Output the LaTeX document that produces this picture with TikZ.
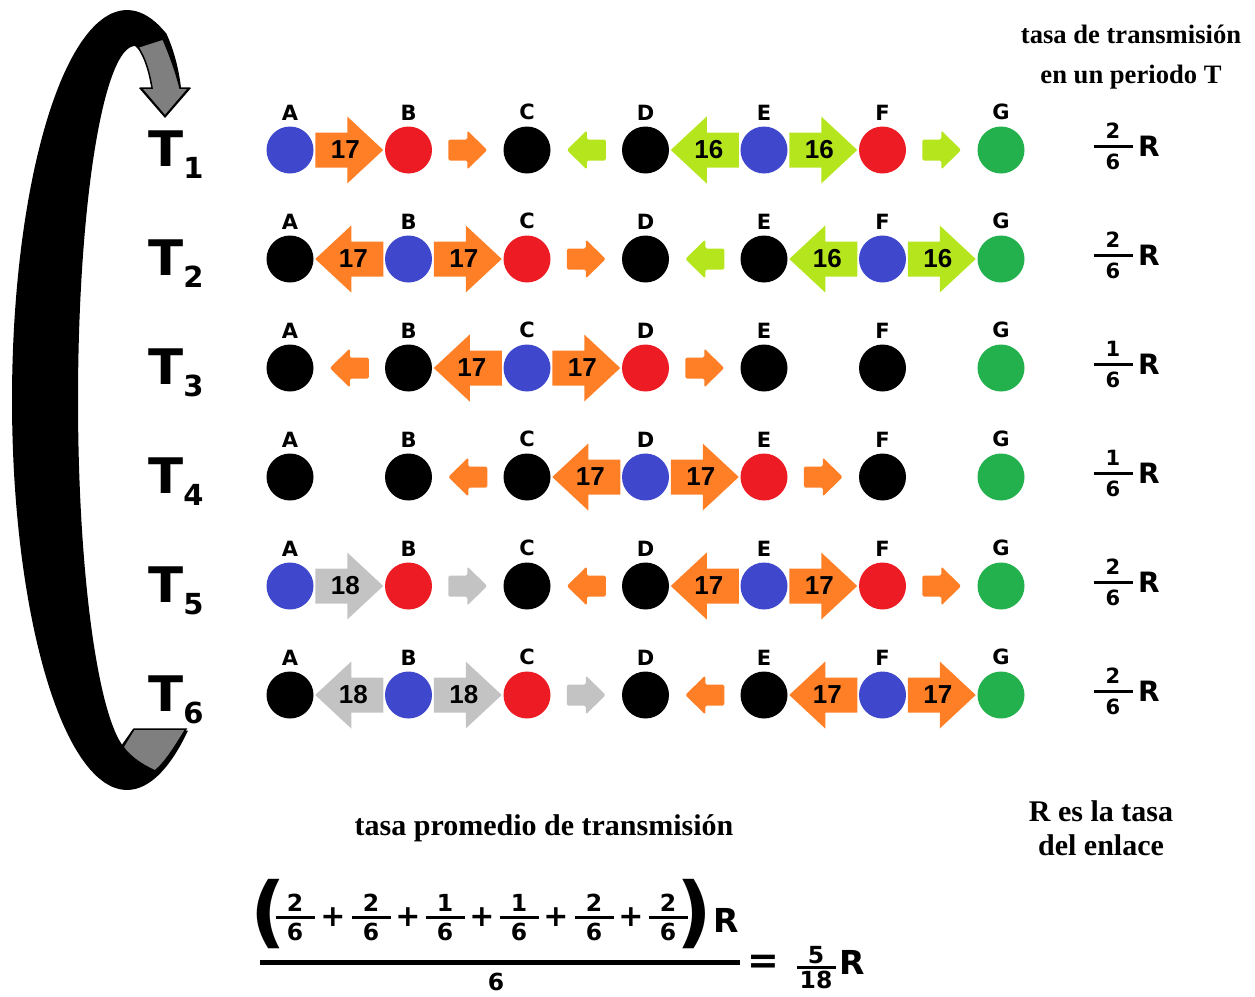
\documentclass[tikz,border=0pt]{standalone}
\usepackage{fontspec}
\setmainfont{Liberation Serif}
\newfontfamily\arial{Liberation Sans}
\newfontfamily\dejavu{DejaVu Sans}
\usetikzlibrary{calc}

\definecolor{azul}{RGB}{63,72,204}
\definecolor{rojo}{RGB}{237,28,36}
\definecolor{verde}{RGB}{34,177,76}
\definecolor{naranja}{RGB}{255,127,39}
\definecolor{lima}{RGB}{181,230,29}
\definecolor{gris}{RGB}{195,195,195}
\definecolor{grisosc}{RGB}{127,127,127}

\newcommand\tsub{\dejavu\bfseries\fontsize{29}{29}\selectfont}

% flechas: grande (con número) y pequeña; fracción con barra
\tikzset{
  pics/flechaG/.style 2 args={code={
    \fill[#1] (-34,-17.5) -- (-2,-17.5) -- (-2,-33.5) -- (34,0)
      -- (-2,33.5) -- (-2,17.5) -- (-34,17.5) -- cycle;
    \node[num] (-n) at (-4,0) {#2};
  }},
  pics/flechaP/.style={code={
    \fill[#1, rounded corners=1.5pt] (-19.5,-10.5) -- (-0.5,-10.5) -- (-0.5,-19.5)
      -- (19.5,0) -- (-0.5,19.5) -- (-0.5,10.5) -- (-19.5,10.5) -- cycle;
  }},
  pics/frac/.style n args={3}{code={
    \node[anchor=base] (-n) at (0,-#3) {#1};
    \draw[line width=3pt] (-19.5,0) -- (19.5,0);
    \node[anchor=north] (-d) at (0,#3) {#2};
  }}
}

\begin{document}
\begin{tikzpicture}[x=1pt, y=-1pt,
  every node/.style={inner sep=0pt},
  nodo/.style={circle, minimum size=47pt},
  every label/.style={font=\dejavu\bfseries\fontsize{21}{21}\selectfont},
  label distance=6pt,
  num/.style={font=\arial\bfseries\fontsize{26}{26}\selectfont},
  fr/.style={font=\dejavu\bfseries\fontsize{21}{21}\selectfont},
  frb/.style={font=\dejavu\bfseries\fontsize{23.5}{24}\selectfont},
  erre/.style={font=\dejavu\bfseries\fontsize{28}{28}\selectfont},
  erreb/.style={font=\dejavu\bfseries\fontsize{33}{33}\selectfont},
  tlab/.style={font=\dejavu\bfseries\fontsize{49}{49}\selectfont, anchor=base west},
  titulo/.style={font=\bfseries\fontsize{26.6}{30}\selectfont, anchor=base},
  titulob/.style={font=\bfseries\fontsize{30}{34}\selectfont, anchor=base},
  paren/.style={font=\dejavu\bfseries\fontsize{78}{78}\selectfont},
  op/.style={font=\dejavu\bfseries\fontsize{30}{30}\selectfont}
]
\useasboundingbox (0,0) rectangle (1255,996);

% --- ciclo de periodos ---
\fill[black] plot[domain=302:70, samples=60, smooth]
    ({127+115*cos(\x)}, {400-390*sin(\x)})
  .. controls (174,50) and (179,70) .. (181,88)
  -- (191,88) -- (165,118) -- (139,88) -- (152,88)
  .. controls (149,68) and (143,52) .. (135,46)
  -- plot[domain=90:256.8, samples=60, smooth]
    ({135+57*cos(\x)}, {400-354*sin(\x)})
  -- (133,729) -- cycle;
\filldraw[fill=grisosc, draw=black, line width=1.5pt] (138,47) -- (163,39)
  .. controls (170,55) and (176,72) .. (180,88) -- (189,88) -- (165,116)
  -- (141,88) -- (152,88) .. controls (149,70) and (145,58) .. (138,47) -- cycle;
\filldraw[fill=grisosc, draw=black, line width=1.5pt] (123,747) -- (134,729)
  -- (186,729) .. controls (176,745) and (166,762) .. (155,771)
  .. controls (142,765) and (130,757) .. (123,747) -- cycle;

\foreach \k/\y in {1/150,2/259,3/368,4/477,5/586,6/695}
  \node[tlab] (T\k) at (148,\y+16) {\scalebox{1.05}[1]{T}\raisebox{-12pt}{\tsub\k}};

% --- fila 1 ---
\foreach \n/\c [count=\i from 0] in {A/azul,B/rojo,C/black,D/black,E/azul,F/rojo,G/verde}
  \node[nodo, fill=\c, label=above:\n] (\n1) at (290+118.5*\i,150) {};
\pic (a11) at ($(A1)!0.5!(B1)$) {flechaG={naranja}{17}};
\pic (a12) at ($(B1)!0.5!(C1)$) {flechaP=naranja};
\pic[xscale=-1] (a13) at ($(C1)!0.5!(D1)$) {flechaP=lima};
\pic[xscale=-1] (a14) at ($(D1)!0.5!(E1)$) {flechaG={lima}{16}};
\pic (a15) at ($(E1)!0.5!(F1)$) {flechaG={lima}{16}};
\pic (a16) at ($(F1)!0.5!(G1)$) {flechaP=lima};

% --- fila 2 ---
\foreach \n/\c [count=\i from 0] in {A/black,B/azul,C/rojo,D/black,E/black,F/azul,G/verde}
  \node[nodo, fill=\c, label=above:\n] (\n2) at (290+118.5*\i,259) {};
\pic[xscale=-1] (a21) at ($(A2)!0.5!(B2)$) {flechaG={naranja}{17}};
\pic (a22) at ($(B2)!0.5!(C2)$) {flechaG={naranja}{17}};
\pic (a23) at ($(C2)!0.5!(D2)$) {flechaP=naranja};
\pic[xscale=-1] (a24) at ($(D2)!0.5!(E2)$) {flechaP=lima};
\pic[xscale=-1] (a25) at ($(E2)!0.5!(F2)$) {flechaG={lima}{16}};
\pic (a26) at ($(F2)!0.5!(G2)$) {flechaG={lima}{16}};

% --- fila 3 ---
\foreach \n/\c [count=\i from 0] in {A/black,B/black,C/azul,D/rojo,E/black,F/black,G/verde}
  \node[nodo, fill=\c, label=above:\n] (\n3) at (290+118.5*\i,368) {};
\pic[xscale=-1] (a31) at ($(A3)!0.5!(B3)$) {flechaP=naranja};
\pic[xscale=-1] (a32) at ($(B3)!0.5!(C3)$) {flechaG={naranja}{17}};
\pic (a33) at ($(C3)!0.5!(D3)$) {flechaG={naranja}{17}};
\pic (a34) at ($(D3)!0.5!(E3)$) {flechaP=naranja};

% --- fila 4 ---
\foreach \n/\c [count=\i from 0] in {A/black,B/black,C/black,D/azul,E/rojo,F/black,G/verde}
  \node[nodo, fill=\c, label=above:\n] (\n4) at (290+118.5*\i,477) {};
\pic[xscale=-1] (a41) at ($(B4)!0.5!(C4)$) {flechaP=naranja};
\pic[xscale=-1] (a42) at ($(C4)!0.5!(D4)$) {flechaG={naranja}{17}};
\pic (a43) at ($(D4)!0.5!(E4)$) {flechaG={naranja}{17}};
\pic (a44) at ($(E4)!0.5!(F4)$) {flechaP=naranja};

% --- fila 5 ---
\foreach \n/\c [count=\i from 0] in {A/azul,B/rojo,C/black,D/black,E/azul,F/rojo,G/verde}
  \node[nodo, fill=\c, label=above:\n] (\n5) at (290+118.5*\i,586) {};
\pic (a51) at ($(A5)!0.5!(B5)$) {flechaG={gris}{18}};
\pic (a52) at ($(B5)!0.5!(C5)$) {flechaP=gris};
\pic[xscale=-1] (a53) at ($(C5)!0.5!(D5)$) {flechaP=naranja};
\pic[xscale=-1] (a54) at ($(D5)!0.5!(E5)$) {flechaG={naranja}{17}};
\pic (a55) at ($(E5)!0.5!(F5)$) {flechaG={naranja}{17}};
\pic (a56) at ($(F5)!0.5!(G5)$) {flechaP=naranja};

% --- fila 6 ---
\foreach \n/\c [count=\i from 0] in {A/black,B/azul,C/rojo,D/black,E/black,F/azul,G/verde}
  \node[nodo, fill=\c, label=above:\n] (\n6) at (290+118.5*\i,695) {};
\pic[xscale=-1] (a61) at ($(A6)!0.5!(B6)$) {flechaG={gris}{18}};
\pic (a62) at ($(B6)!0.5!(C6)$) {flechaG={gris}{18}};
\pic (a63) at ($(C6)!0.5!(D6)$) {flechaP=gris};
\pic[xscale=-1] (a64) at ($(D6)!0.5!(E6)$) {flechaP=naranja};
\pic[xscale=-1] (a65) at ($(E6)!0.5!(F6)$) {flechaG={naranja}{17}};
\pic (a66) at ($(F6)!0.5!(G6)$) {flechaG={naranja}{17}};

% --- tasa por periodo ---
\node[titulo] (tt1) at (1131,43) {tasa de transmisión};
\node[titulo] (tt2) at (1131,83) {en un periodo T};
\foreach \k/\a/\y in {1/2/150,2/2/259,3/1/368,4/1/477,5/2/586,6/2/695} {
  \pic[fr] (q\k) at (1113,\y-4) {frac={\a}{6}{8}};
  \node[erre] (R\k) at (1149,\y-4) {R};
}

% --- promedio ---
\node[titulob] (tp) at (544,835) {tasa promedio de transmisión};
\node[titulob] (re1) at (1101,821) {R es la tasa};
\node[titulob] (re2) at (1101,855) {del enlace};

\node[paren] (pa) at (268,914) {(};
\foreach \x/\a [count=\k] in {295/2,371/2,445/1,519/1,594/2,668/2}
  \pic[frb] (s\k) at (\x,917) {frac={\a}{6}{6}};
\foreach \x [count=\k] in {333,408,482,556,631}
  \node[op] (m\k) at (\x,917) {+};
\node[paren] (pb) at (694,914) {)};
\node[erreb] (R7) at (726,920) {R};
\draw[line width=5pt] (260,962) -- (740,962);
\node[frb] (den) at (496,982) {6};
\node[op, font=\dejavu\bfseries\fontsize{38}{38}\selectfont] (eq) at (763,964) {=};
\pic[frb] (res) at (816,967) {frac={5}{18}{4}};
\node[erreb] (R8) at (852,962) {R};
\end{tikzpicture}
\end{document}
